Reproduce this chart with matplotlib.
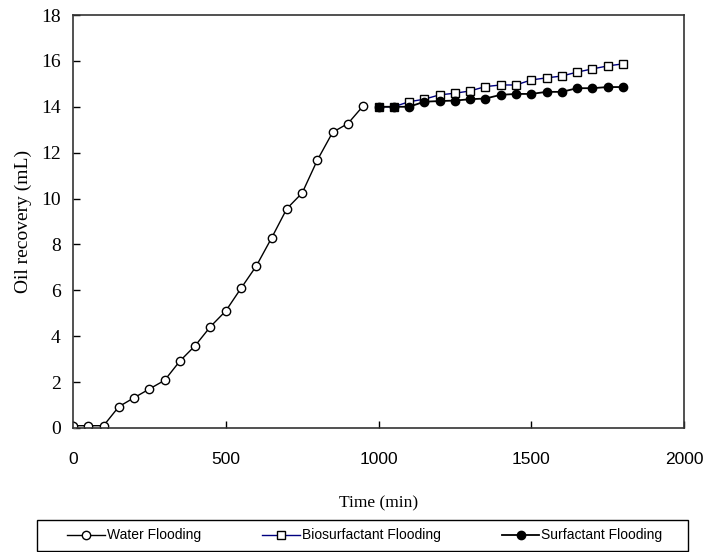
import matplotlib
matplotlib.use("Agg")
import matplotlib.pyplot as plt
from matplotlib import font_manager as fm
from matplotlib.patches import Rectangle

# water flooding (min, mL)
t_water = [0, 50, 100, 150, 200, 250, 300, 350, 400, 450, 500, 550, 600, 650,
           700, 750, 800, 850, 900, 950]
oil_water = [0.1, 0.1, 0.1, 0.93, 1.32, 1.70, 2.08, 2.92, 3.59, 4.42, 5.10, 6.09,
             7.06, 8.28, 9.56, 10.24, 11.68, 12.89, 13.27, 14.04]

# after 1000 min
t_chem = [1000, 1050, 1100, 1150, 1200, 1250, 1300, 1350, 1400, 1450, 1500,
          1550, 1600, 1650, 1700, 1750, 1800]
oil_bio = [14.0, 14.0, 14.22, 14.33, 14.52, 14.59, 14.69, 14.88, 14.95, 14.95,
           15.17, 15.26, 15.34, 15.51, 15.65, 15.78, 15.87]
oil_surf = [14.0, 14.0, 14.0, 14.22, 14.25, 14.27, 14.33, 14.36, 14.52, 14.56,
            14.56, 14.65, 14.65, 14.81, 14.81, 14.86, 14.86]


def have(name):
    try:
        fm.findfont(fm.FontProperties(family=name), fallback_to_default=False)
        return True
    except ValueError:
        return False


# narrow sans if there is one
if have('Liberation Sans Narrow'):
    sans = dict(family=['Liberation Sans Narrow', 'DejaVu Sans'])
    tick_fs, leg_fs = 15, 12
else:
    sans = dict(family=['Liberation Sans', 'DejaVu Sans'])
    tick_fs, leg_fs = 12.5, 10
serif = ['Liberation Serif', 'DejaVu Serif']

my_dpi = 100
W, H = 704, 552
fig = plt.figure(figsize=(W/my_dpi, H/my_dpi), dpi=my_dpi)
ax = fig.add_axes([73/W, 1-428/H, 611/W, 413/H])

l1, = ax.plot(t_water, oil_water, color='black', lw=1.0, marker='o', ms=6,
              mfc='white', mec='black', mew=1.0, label='Water Flooding')
l2, = ax.plot(t_chem, oil_bio, color='#000080', lw=1.0, marker='s', ms=6,
              mfc='white', mec='black', mew=1.0, label='Biosurfactant Flooding')
l3, = ax.plot(t_chem, oil_surf, color='black', lw=1.3, marker='o', ms=6,
              mfc='black', mec='black', label='Surfactant Flooding')

ax.set_xlim(0, 2000)
ax.set_ylim(0, 18)
ax.set_xticks([0, 500, 1000, 1500, 2000])
ax.set_yticks(range(0, 19, 2))
ax.tick_params(direction='in', length=5, width=1)
ax.tick_params(axis='x', pad=17)
ax.tick_params(axis='y', pad=9)
for lab in ax.get_xticklabels():
    lab.set_family(sans['family'])
    lab.set_fontsize(tick_fs)
for lab in ax.get_yticklabels():
    lab.set_family(serif)
    lab.set_fontsize(14)
for s in ax.spines.values():
    s.set_linewidth(1.2)
    s.set_color('#333333')

ax.set_xlabel('Time (min)', family=serif, fontsize=12.5, va='center')
ax.xaxis.set_label_coords(0.5, -(503-428)/413)
ax.set_ylabel('Oil recovery (mL)', family=serif, fontsize=14, va='center')
ax.yaxis.set_label_coords(-(73-23)/611, 0.5)

# legend box below the plot
fig.patches.append(Rectangle((37/W, 1-551/H), (688-37)/W, 31/H,
                             transform=fig.transFigure, fill=False,
                             edgecolor='black', lw=1.0))
fig.legend(handles=[l1, l2, l3], loc='center',
           bbox_to_anchor=(365/W, 1-535.5/H), ncol=3, frameon=False,
           handlelength=2.7, handletextpad=0.15, columnspacing=4.4,
           prop=dict(family=sans['family'], size=leg_fs))

plt.savefig('out.png', dpi=my_dpi)
